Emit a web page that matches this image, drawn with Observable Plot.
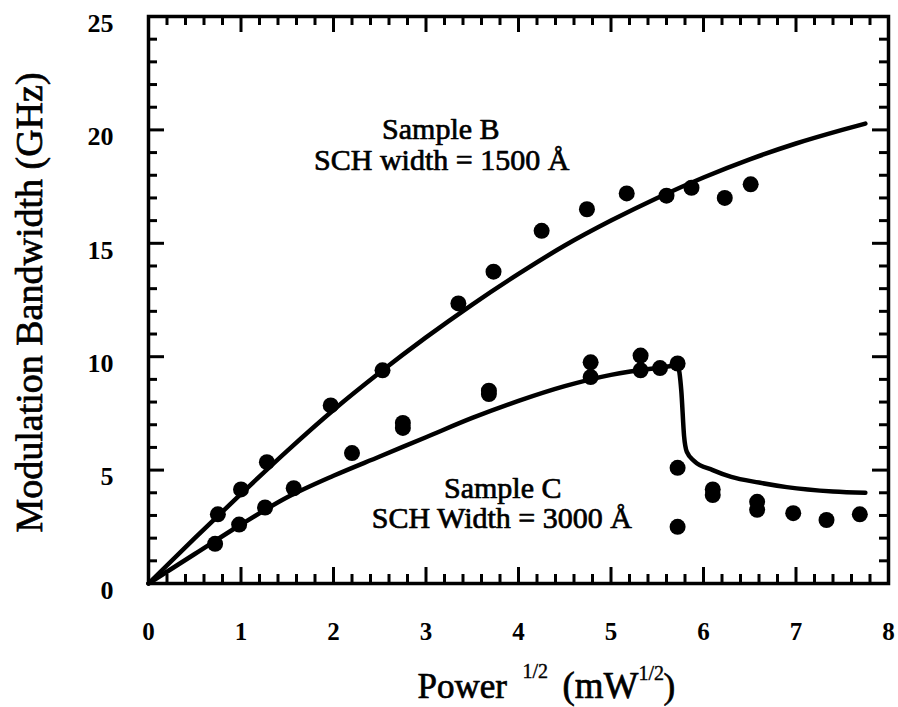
<!DOCTYPE html>
<html>
<head>
<meta charset="utf-8">
<script src="https://cdn.jsdelivr.net/npm/d3@7"></script>
<script src="https://cdn.jsdelivr.net/npm/@observablehq/plot@0.6"></script>
<style>
  body { margin: 0; background: #fff; }
  #chart { width: 898px; height: 707px; }
</style>
</head>
<body>
<div id="chart"></div>
<script>
// ---- Data ----
const xTicks = [0, 1, 2, 3, 4, 5, 6, 7, 8];
const yTicks = [0, 5, 10, 15, 20, 25];

// Sample B measured points (sqrt power, bandwidth GHz)
const sampleBX = [0.75, 1.0, 1.28, 1.97, 2.53, 3.35, 3.73, 4.25, 4.74, 5.17, 5.6, 5.87, 6.23, 6.51];
const sampleBY = [3.05, 4.15, 5.35, 7.85, 9.4, 12.35, 13.75, 15.55, 16.5, 17.2, 17.1, 17.45, 17.0, 17.6];

// Sample C measured points
const sampleCX = [0.72, 0.98, 1.26, 1.57, 2.2, 2.75, 2.75, 3.68, 3.68, 4.78, 4.78, 5.32, 5.32, 5.53, 5.72, 5.72, 5.72, 6.1, 6.1, 6.58, 6.58, 6.97, 7.33, 7.69];
const sampleCY = [1.75, 2.6, 3.35, 4.2, 5.75, 6.86, 7.08, 8.35, 8.5, 9.1, 9.75, 9.4, 10.05, 9.5, 9.7, 5.1, 2.5, 3.9, 4.15, 3.25, 3.6, 3.1, 2.8, 3.05];

// Theory curve for sample B
const curveBX = [0, 0.5, 1, 1.5, 2, 2.5, 3, 3.5, 4, 4.5, 5, 5.5, 6, 6.5, 7, 7.5, 7.75];
const curveBY = [0, 2.0, 3.95, 5.85, 7.65, 9.3, 10.85, 12.3, 13.65, 14.9, 16.0, 17.0, 17.9, 18.7, 19.4, 20.0, 20.28];

// Theory curve for sample C (with abrupt drop)
const curveCX = [0, 0.5, 1.0, 1.5, 2.0, 2.5, 3.0, 3.5, 4.0, 4.5, 5.0, 5.5, 5.72, 5.76, 5.79, 5.82, 5.9, 6.1, 6.3, 6.6, 6.9, 7.4, 7.75];
const curveCY = [0, 1.3, 2.6, 3.8, 4.75, 5.6, 6.45, 7.3, 8.05, 8.7, 9.2, 9.5, 9.6, 8.5, 6.5, 5.8, 5.4, 5.0, 4.7, 4.45, 4.25, 4.06, 4.0];

// Annotations (data coordinates)
const noteText = ["Sample B", "SCH width = 1500 Å", "Sample C", "SCH Width = 3000 Å"];
const noteX = [3.16, 3.17, 3.83, 3.82];
const noteY = [19.62, 18.21, 3.75, 2.43];

const xLabelParts = ["Power", "1/2", "(mW", "1/2", ")"];
const yLabel = "Modulation Bandwidth (GHz)";

// ---- Layout ----
const W = 898, H = 707;
const mL = 148, mR = 10, mT = 16, mB = 124;
const FW = W - mL - mR, FH = H - mT - mB;
const font = "'Liberation Serif', 'Times New Roman', serif";

const zip = (xs, ys) => xs.map((x, i) => ({x, y: ys[i]}));
const bPoints = zip(sampleBX, sampleBY);
const cPoints = zip(sampleCX, sampleCY);
const bCurve = zip(curveBX, curveBY);
const cCurve = zip(curveCX, curveCY);
const notes = noteText.map((t, i) => ({t, x: noteX[i], y: noteY[i]}));

const xMinor = d3.range(0, 8.0001, 0.2).filter(v => Math.abs(v - Math.round(v)) > 1e-6);
const yMinor = d3.range(0, 25.0001, 1).filter(v => v % 5 !== 0);

const minorLen = 9, majorLen = 16, tickW = 3;

// x-title layout: [dx from frame left, dy from frame bottom (baseline), size]
const xLabelLayout = [
  [269, 114, 35], [374, 94, 20], [414, 114, 37], [490, 96, 20], [515, 114, 35]
];

const heavy = {stroke: "black", strokeWidth: 0.7, fill: "black"};

const chart = Plot.plot({
  width: W, height: H,
  marginLeft: mL, marginRight: mR, marginTop: mT, marginBottom: mB,
  x: {domain: [0, 8], axis: null},
  y: {domain: [0, 25], axis: null},
  style: {fontFamily: font, background: "white", color: "black"},
  marks: [
    // inward ticks: bottom / top
    Plot.ruleX(xMinor, {x: d => d, insetTop: FH - minorLen, stroke: "black", strokeWidth: tickW}),
    Plot.ruleX(xTicks, {x: d => d, insetTop: FH - majorLen, stroke: "black", strokeWidth: tickW}),
    Plot.ruleX(xMinor, {x: d => d, insetBottom: FH - minorLen, stroke: "black", strokeWidth: tickW}),
    Plot.ruleX(xTicks, {x: d => d, insetBottom: FH - majorLen, stroke: "black", strokeWidth: tickW}),
    // left / right
    Plot.ruleY(yMinor, {y: d => d, insetRight: FW - minorLen, stroke: "black", strokeWidth: tickW}),
    Plot.ruleY(yTicks, {y: d => d, insetRight: FW - majorLen, stroke: "black", strokeWidth: tickW}),
    Plot.ruleY(yMinor, {y: d => d, insetLeft: FW - minorLen, stroke: "black", strokeWidth: tickW}),
    Plot.ruleY(yTicks, {y: d => d, insetLeft: FW - majorLen, stroke: "black", strokeWidth: tickW}),
    Plot.frame({stroke: "black", strokeWidth: 3.5}),

    // theory curves
    Plot.line(bCurve, {x: "x", y: "y", curve: "monotone-x", stroke: "black", strokeWidth: 4.5}),
    Plot.line(cCurve, {x: "x", y: "y", curve: "monotone-x", stroke: "black", strokeWidth: 4.5}),

    // measured points
    Plot.dot(bPoints, {x: "x", y: "y", r: 8, fill: "black"}),
    Plot.dot(cPoints, {x: "x", y: "y", r: 8, fill: "black"}),

    // annotations
    Plot.text(notes, {x: "x", y: "y", text: "t", textAnchor: "middle", lineAnchor: "bottom",
      fontSize: 30, fontFamily: font, ...heavy}),

    // tick labels
    Plot.text(xTicks, {x: d => d, text: d => String(d), frameAnchor: "bottom", dy: 56,
      lineAnchor: "bottom", textAnchor: "middle", fontSize: 25, fontWeight: "bold", fontFamily: font, fill: "black"}),
    Plot.text(yTicks, {y: d => d, text: d => String(d), frameAnchor: "left", dx: -35, dy: 7,
      lineAnchor: "middle", textAnchor: "end", fontSize: 26, fontWeight: "bold", fontFamily: font, fill: "black"}),

    // axis titles
    ...xLabelParts.map((t, i) => Plot.text([t], {
      text: d => d, frameAnchor: "bottom-left", dx: xLabelLayout[i][0], dy: xLabelLayout[i][1],
      textAnchor: "start", lineAnchor: "bottom", fontSize: xLabelLayout[i][2], fontFamily: font, ...heavy,
      strokeWidth: i % 2 ? 0.4 : 0.7
    })),
    Plot.text([yLabel], {text: d => d, frameAnchor: "left", dx: -119, dy: 2.5, rotate: -90,
      textAnchor: "middle", lineAnchor: "middle", fontSize: 38, fontFamily: font, ...heavy})
  ]
});

document.getElementById("chart").appendChild(chart);
</script>
</body>
</html>
